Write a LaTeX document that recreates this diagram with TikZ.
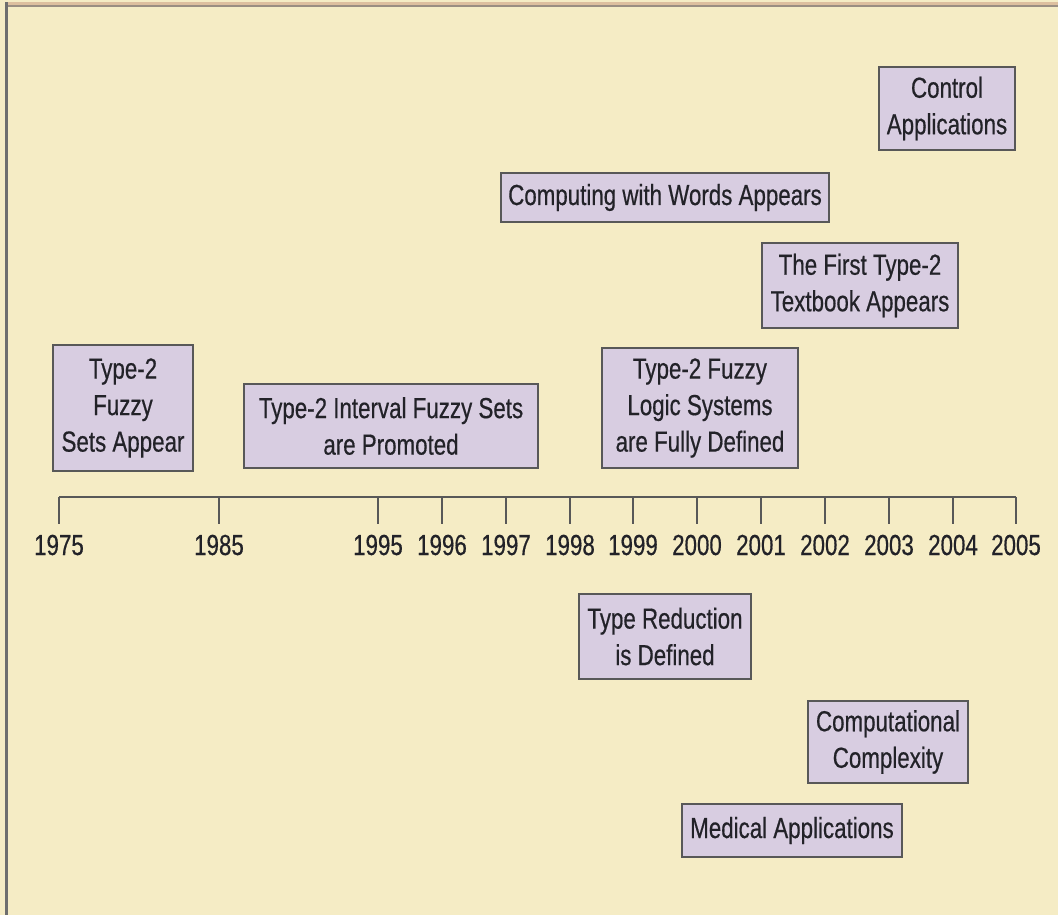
\documentclass[tikz,border=0pt]{standalone}
\usepackage{fontspec}
\setmainfont[FakeStretch=0.77,FakeBold=0.5]{Liberation Sans}
\definecolor{cream}{HTML}{F5ECC5}
\definecolor{lav}{HTML}{D8CDE1}
\definecolor{edge}{HTML}{585858}
\definecolor{ink}{HTML}{222228}
\definecolor{tan}{HTML}{DDBF9F}
\definecolor{leftline}{HTML}{6E6E6E}
\tikzset{
  evbox/.style={draw=edge, line width=1.6pt, fill=lav, inner sep=0pt, align=center,
    text=ink, font=\fontsize{29}{36.5}\selectfont},
  yearlbl/.style={anchor=base, inner sep=0pt, text=ink, font=\fontsize{29}{34}\selectfont},
  axisline/.style={draw=edge, line width=1.6pt}
}
\begin{document}
\begin{tikzpicture}[x=1pt,y=-1pt]
\useasboundingbox (0,0) rectangle (1058,915);
\fill[cream] (0,0) rectangle (1058,915);
\fill[tan] (5,2) rectangle (1058,5.5);
\fill[leftline!60!tan] (5,5.5) rectangle (1058,7);
\fill[leftline] (5,2) rectangle (8,915);
% axis
\coordinate (a0) at (59,497);
\coordinate (a1) at (1016,497);
\draw[axisline] (a0) -- (a1);
\foreach \yr/\x in {1975/59,1985/219,1995/378,1996/442,1997/506,1998/570,1999/633,2000/697,2001/761,2002/825,2003/889,2004/953,2005/1016}{
  \coordinate (t\yr) at (\x,497);
  \draw[axisline] (t\yr) -- ++(0,27);
  \node[yearlbl] (y\yr) at (\x,555) {\yr};
}
% boxes: center, size
\node[evbox, minimum width=140pt, minimum height=126pt] (fuzzy) at (123,408) {Type-2\\Fuzzy\\Sets Appear};
\node[evbox, minimum width=294pt, minimum height=84pt] (interval) at (391,426) {Type-2 Interval Fuzzy Sets\\are Promoted};
\node[evbox, minimum width=196pt, minimum height=120pt] (logic) at (700,408) {Type-2 Fuzzy\\Logic Systems\\are Fully Defined};
\node[evbox, minimum width=136pt, minimum height=83pt] (control) at (947,108.5) {Control\\Applications};
\node[evbox, minimum width=328pt, minimum height=49pt] (words) at (665,197.5) {Computing with Words Appears};
\node[evbox, minimum width=196pt, minimum height=85pt] (textbook) at (860,285.5) {The First Type-2\\Textbook Appears};
\node[evbox, minimum width=172pt, minimum height=85pt] (reduction) at (665,636.5) {Type Reduction\\is Defined};
\node[evbox, minimum width=160pt, minimum height=82pt] (complexity) at (888,742) {Computational\\Complexity};
\node[evbox, minimum width=220pt, minimum height=53pt] (medical) at (792,830.5) {Medical Applications};
\end{tikzpicture}
\end{document}
